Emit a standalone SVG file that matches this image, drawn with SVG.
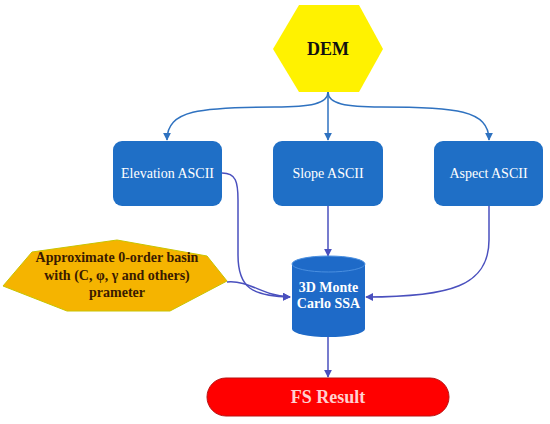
<svg xmlns="http://www.w3.org/2000/svg" width="550" height="424" viewBox="0 0 550 424">
<defs>
<style>
.box{fill:#1F6FC6;}
.bt{font-family:"Liberation Serif",serif;font-size:14px;fill:#ffffff;text-anchor:middle;}
.bold{font-family:"Liberation Serif",serif;font-weight:bold;text-anchor:middle;}
.c1{fill:none;stroke:#2F72C0;stroke-width:1.5;}
.c2{fill:none;stroke:#4A50BE;stroke-width:1.5;}
</style>
<marker id="a1" viewBox="0 0 10 10" refX="9" refY="5" markerWidth="8" markerHeight="8" markerUnits="userSpaceOnUse" orient="auto"><path d="M0,0 L10,5 L0,10 z" fill="#2F72C0"/></marker>
<marker id="a2" viewBox="0 0 10 10" refX="9" refY="5" markerWidth="8" markerHeight="8" markerUnits="userSpaceOnUse" orient="auto"><path d="M0,0 L10,5 L0,10 z" fill="#4A50BE"/></marker>
</defs>
<rect width="550" height="424" fill="#ffffff"/>
<g id="connectors">
<path class="c1" marker-end="url(#a1)" d="M328,92 C328,104 310,107 275,107 C200,107 167,110 167,140"/>
<path class="c1" marker-end="url(#a1)" d="M328,92 L328,140"/>
<path class="c1" marker-end="url(#a1)" d="M328,92 C328,104 346,107 381,107 C456,107 489,110 489,140"/>
<path class="c2" marker-end="url(#a2)" d="M222,173 C236,173 238,182 238,200 L238,255 C238,288 252,296 290,297"/>
<path class="c2" marker-end="url(#a2)" d="M227,282 C250,280 262,296 290,297"/>
<path class="c2" marker-end="url(#a2)" d="M328,206 L328,256"/>
<path class="c2" marker-end="url(#a2)" d="M489,206 L489,240 C489,286 450,297 366,297"/>
<path class="c2" marker-end="url(#a2)" d="M328,337 L328,377"/>
</g>
<g id="dem">
<polygon points="299,5 359,5 383,49 359,92 299,92 273,49" fill="#FFF200"/>
<text class="bold" x="328" y="55" font-size="18" fill="#111111">DEM</text>
</g>
<g id="elevation">
<rect class="box" x="113" y="141" width="109" height="65" rx="9"/>
<text class="bt" x="167.5" y="178">Elevation ASCII</text>
</g>
<g id="slope">
<rect class="box" x="273" y="141" width="110" height="65" rx="9"/>
<text class="bt" x="328" y="178">Slope ASCII</text>
</g>
<g id="aspect">
<rect class="box" x="434" y="141" width="109" height="65" rx="9"/>
<text class="bt" x="488.5" y="178">Aspect ASCII</text>
</g>
<g id="basin">
<polygon points="3,286 32,252 117,240 207,256 227,281 170,311 67,311" fill="#F5B400" stroke="#C8C400" stroke-width="1"/>
<text class="bold" font-size="14" fill="#3A1A00"><tspan x="117" y="262">Approximate 0-order basin</tspan><tspan x="117" y="280">with (C, φ, γ and others)</tspan><tspan x="117" y="297">prameter</tspan></text>
</g>
<g id="montecarlo">
<path d="M292,264 L292,329 A36.5,8 0 0 0 365,329 L365,264 Z" fill="#1E6AC8"/>
<ellipse cx="328.5" cy="264" rx="36.5" ry="8" fill="#1E6AC8" stroke="#4A8FE0" stroke-width="1"/>
<text class="bold" font-size="14" fill="#ffffff"><tspan x="328.5" y="292">3D Monte</tspan><tspan x="328.5" y="308">Carlo SSA</tspan></text>
</g>
<g id="fs">
<rect x="207" y="378" width="242" height="38" rx="19" fill="#FF0000" stroke="#B81010" stroke-width="1"/>
<text class="bold" x="328" y="403" font-size="18" fill="#FFD0D0">FS Result</text>
</g>
</svg>
